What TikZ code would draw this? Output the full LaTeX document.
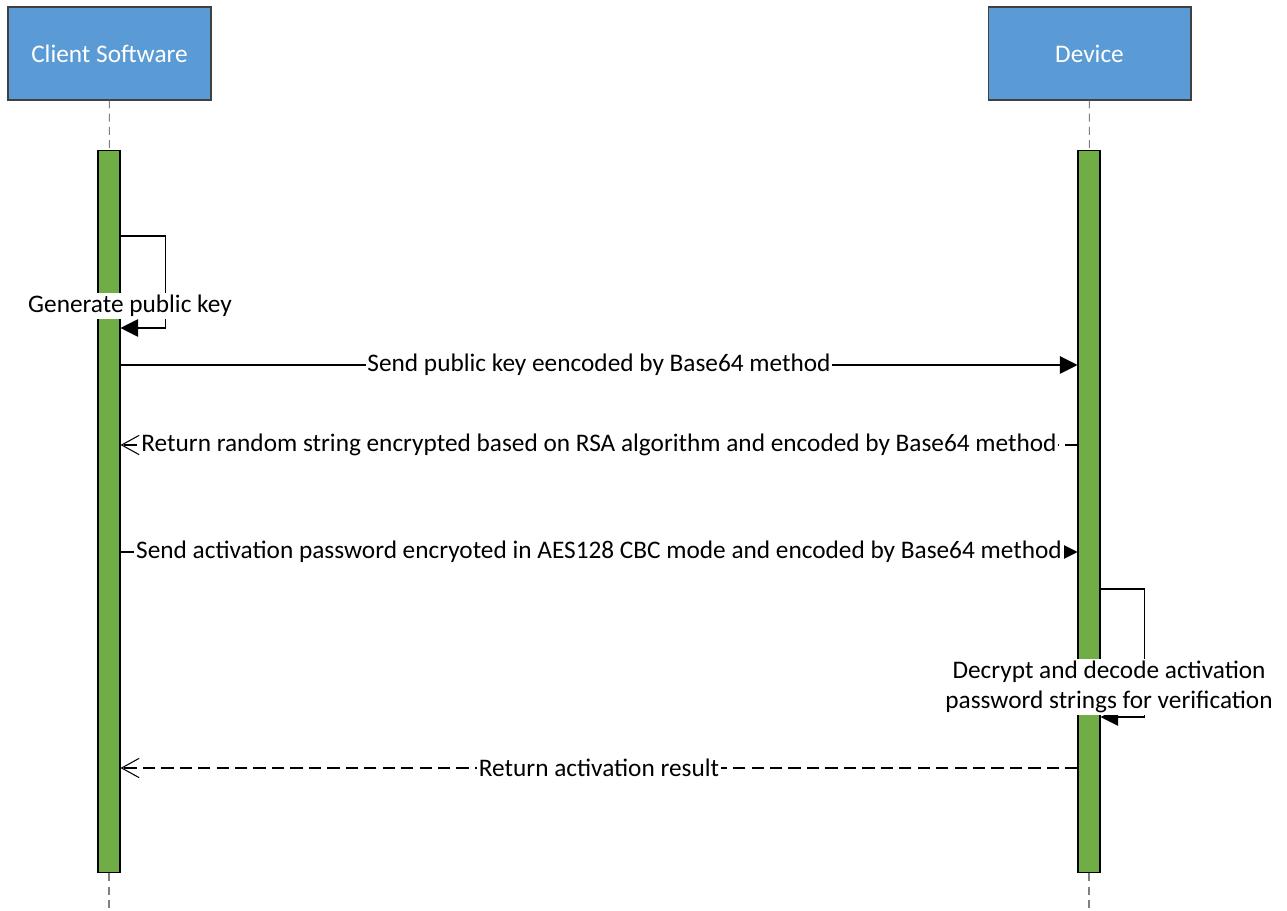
\documentclass[tikz,border=0pt]{standalone}
\usepackage{fontspec}
\setmainfont{Carlito}
\usetikzlibrary{arrows.meta}
\definecolor{boxblue}{HTML}{5B9BD5}
\definecolor{bargreen}{HTML}{70AD47}

\begin{document}
\begin{tikzpicture}[x=0.02cm, y=-0.02cm, line width=0.6pt,
		actor/.style = {draw=black!75, fill=boxblue, text=white, minimum width=4.06cm, minimum height=1.86cm, inner sep=0pt, font=\fontsize{14.4}{17}\selectfont},
		bar/.style = {draw, fill=bargreen, minimum width=0.44cm, minimum height=14.46cm, inner sep=0pt},
		life/.style = {draw=gray, dash pattern=on 4.5pt off 3pt},
		msg/.style = {-{Triangle[length=10pt, width=10pt]}},
		ret/.style = {dash pattern=on 7pt off 3.5pt, -{Straight Barb[length=10pt, width=11pt]}},
		lbl/.style = {fill=white, inner sep=1pt, font=\fontsize{14.4}{17}\selectfont}]
		\useasboundingbox (0,0) rectangle (1287,911);
		\node[actor] (1) at (109.5,53.5) {Client Software};
		\node[actor] (2) at (1089.5,53.5) {Device};
		\node[bar] (3) at (109,511.5) {};
		\node[bar] (4) at (1089,511.5) {};
		\coordinate (5) at (109,911);
		\coordinate (6) at (1089,911);
		\draw[life] (1) -- (3);
		\draw[life] (3) -- (5);
		\draw[life] (2) -- (4);
		\draw[life] (4) -- (6);
		% self call on the client
		\draw[msg] (3.east |- 0,236) -- ++(45,0) -- ++(0,92) -- (3.east |- 0,328);
		\node[lbl] (7) at (130,306) {Generate public key};
		% messages
		\draw[msg] (3.east |- 0,365) -- node[lbl] {Send public key eencoded by Base64 method} (4.west |- 0,365);
		\draw[ret] (4.west |- 0,445) -- node[lbl] {Return random string encrypted based on RSA algorithm and encoded by Base64 method} (3.east |- 0,445);
		\draw[msg] (3.east |- 0,552) -- node[lbl] {Send activation password encryoted in AES128 CBC mode and encoded by Base64 method} (4.west |- 0,552);
		% self call on the device
		\draw[msg] (4.east |- 0,589) -- ++(44,0) -- ++(0,128) -- (4.east |- 0,717);
		\node[lbl, align=center] (8) at (1109,687) {Decrypt and decode activation\\password strings for verification};
		\draw[ret] (4.west |- 0,768) -- node[lbl] {Return activation result} (3.east |- 0,768);
	\end{tikzpicture}
\end{document}
